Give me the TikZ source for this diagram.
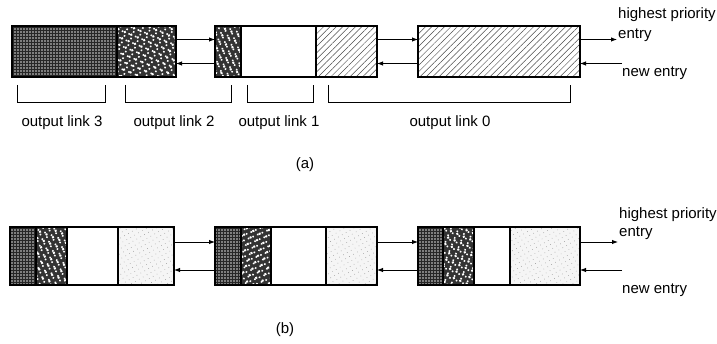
\documentclass[tikz,border=0pt]{standalone}
\usepackage{fontspec}
\setmainfont{Liberation Sans}
\usepackage{tikz}
\usetikzlibrary{arrows.meta, positioning, patterns.meta}

\begin{document}
\begin{tikzpicture}[
  x=1pt, y=-1pt,
  font=\fontsize{15}{17}\selectfont,
  cell/.style={draw, line width=1.3pt, inner sep=0pt, outer sep=0pt},
  rowa/.style={cell, minimum height=51pt},
  rowb/.style={cell, minimum height=58pt},
  darkdots/.style={preaction={fill=black!85},
                   pattern={Dots[distance=3pt, radius=0.8pt]}, pattern color=white!85!black},
  noise/.style={preaction={fill=black!80},
                preaction={pattern={Dots[distance=5pt, radius=1.1pt, angle=23]}, pattern color=white},
                pattern={Dots[distance=7pt, radius=1.4pt, angle=67]}, pattern color=white},
  hatch/.style={preaction={fill=white},
                pattern={Lines[angle=45, distance=4.5pt, line width=0.5pt]}, pattern color=black!70},
  speck/.style={preaction={fill=black!4},
                pattern={Dots[distance=4.5pt, radius=0.4pt, angle=30]}, pattern color=black!45},
  blank/.style={fill=white},
  arr/.style={-{Latex[length=6pt, width=4.5pt]}, line width=0.9pt},
  brk/.style={line width=0.9pt},
  node distance=0pt
]
  \useasboundingbox (0,0) rectangle (717,344);

  % (a) one queue per output link
  \node[rowa, darkdots, minimum width=105pt] (la3) at (64.5,51.5) {};
  \node[rowa, noise, minimum width=59pt, right=of la3] (la2) {};
  \node[rowa, noise, minimum width=26pt, right=39pt of la2] (lb2) {};
  \node[rowa, blank, minimum width=75pt, right=of lb2] (lb1) {};
  \node[rowa, hatch, minimum width=61pt, right=of lb1] (lb0) {};
  \node[rowa, hatch, minimum width=162pt, right=41pt of lb0] (lc0) {};

  \draw[arr] ([yshift=12pt]la2.east) -- ([yshift=12pt]lb2.west);
  \draw[arr] ([yshift=-12pt]lb2.west) -- ([yshift=-12pt]la2.east);
  \draw[arr] ([yshift=12pt]lb0.east) -- ([yshift=12pt]lc0.west);
  \draw[arr] ([yshift=-12pt]lc0.west) -- ([yshift=-12pt]lb0.east);

  \coordinate (outa) at ([xshift=37pt, yshift=12pt]lc0.east);
  \coordinate (ina) at ([xshift=42pt, yshift=-12pt]lc0.east);
  \draw[arr] ([yshift=12pt]lc0.east) -- (outa);
  \draw[arr] (ina) -- ([yshift=-12pt]lc0.east);
  \node[anchor=base west, inner sep=1pt] (enta) at ([yshift=1pt]outa) {entry};
  \node[anchor=base west, inner sep=1pt] (hpa) at ([yshift=20pt]enta.base west) {highest priority};
  \node[anchor=base west, inner sep=0pt] (newa) at ([yshift=-13pt]ina) {new entry};

  % brackets
  \draw[brk] (17,85) |- (105,102) -- (105,85);
  \draw[brk] (125,85) |- (231,102) -- (231,85);
  \draw[brk] (247,85) |- (313,102) -- (313,85);
  \draw[brk] (328,85) |- (570,102) -- (570,85);
  \node (ol3) at (62,123) {output link 3};
  \node (ol2) at (174,123) {output link 2};
  \node (ol1) at (279,123) {output link 1};
  \node (ol0) at (450,123) {output link 0};
  \node (capa) at (305,165) {(a)};

  % (b) one queue, every entry split by link
  \node[rowb, darkdots, minimum width=26pt] (ba3) at (23,256) {};
  \node[rowb, noise, minimum width=31pt, right=of ba3] (ba2) {};
  \node[rowb, blank, minimum width=51pt, right=of ba2] (ba1) {};
  \node[rowb, speck, minimum width=56pt, right=of ba1] (ba0) {};
  \node[rowb, darkdots, minimum width=26pt, right=41pt of ba0] (bb3) {};
  \node[rowb, noise, minimum width=30pt, right=of bb3] (bb2) {};
  \node[rowb, blank, minimum width=55pt, right=of bb2] (bb1) {};
  \node[rowb, speck, minimum width=51pt, right=of bb1] (bb0) {};
  \node[rowb, darkdots, minimum width=25pt, right=41pt of bb0] (bc3) {};
  \node[rowb, noise, minimum width=31pt, right=of bc3] (bc2) {};
  \node[rowb, blank, minimum width=36pt, right=of bc2] (bc1) {};
  \node[rowb, speck, minimum width=70pt, right=of bc1] (bc0) {};

  \draw[arr] ([yshift=14pt]ba0.east) -- ([yshift=14pt]bb3.west);
  \draw[arr] ([yshift=-14pt]bb3.west) -- ([yshift=-14pt]ba0.east);
  \draw[arr] ([yshift=14pt]bb0.east) -- ([yshift=14pt]bc3.west);
  \draw[arr] ([yshift=-14pt]bc3.west) -- ([yshift=-14pt]bb0.east);

  \coordinate (outb) at ([xshift=38pt, yshift=14pt]bc0.east);
  \coordinate (inb) at ([xshift=42pt, yshift=-14pt]bc0.east);
  \draw[arr] ([yshift=14pt]bc0.east) -- (outb);
  \draw[arr] (inb) -- ([yshift=-14pt]bc0.east);
  \node[anchor=base west, inner sep=1pt] (entb) at ([yshift=5pt]outb) {entry};
  \node[anchor=base west, inner sep=1pt] (hpb) at ([yshift=18pt]entb.base west) {highest priority};
  \node[anchor=base west, inner sep=0pt] (newb) at ([yshift=-24pt]inb) {new entry};
  \node (capb) at (285,330) {(b)};
\end{tikzpicture}
\end{document}
